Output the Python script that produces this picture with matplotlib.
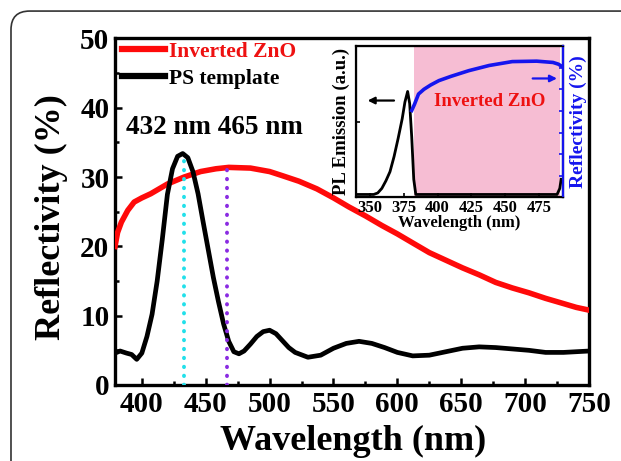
import matplotlib
matplotlib.use("Agg")
import matplotlib.pyplot as plt
from matplotlib.patches import FancyBboxPatch
from matplotlib.ticker import MultipleLocator

plt.rcParams['font.family'] = ['Liberation Serif', 'DejaVu Serif']
plt.rcParams['font.weight'] = 'bold'

# ===== main panel data =====
zno_wl = [379, 381, 384, 389, 394, 400, 407, 420, 433, 446, 458, 468, 485, 500, 510, 523,
          537, 550, 562, 575, 588, 600, 612, 625, 638, 651, 664, 677, 690, 703, 716, 729, 740, 750]
zno_R = [20.0, 22.0, 23.5, 25.2, 26.4, 27.0, 27.6, 29.0, 30.0, 30.8, 31.2, 31.4, 31.3, 30.8, 30.2, 29.4,
         28.3, 27.0, 25.7, 24.4, 23.0, 21.8, 20.5, 19.1, 18.0, 16.9, 15.9, 14.8, 14.0, 13.3, 12.5, 11.8, 11.2, 10.8]

ps_wl = [379, 383, 388, 392, 396, 400, 404, 408, 412, 416, 420, 424, 428, 432, 436, 440, 444, 448,
         452, 456, 460, 464, 468, 472, 476, 480, 485, 490, 495, 500, 505, 510, 515, 520, 530, 540,
         550, 560, 570, 580, 590, 600, 612, 625, 638, 651, 664, 677, 690, 703, 716, 730, 750]
ps_R = [4.6, 4.9, 4.6, 4.4, 3.7, 4.6, 7.0, 10.2, 15.0, 21.0, 27.5, 31.2, 33.0, 33.4, 32.8, 30.8, 27.6, 23.5,
        19.5, 15.5, 12.0, 8.8, 6.3, 4.8, 4.5, 4.9, 5.9, 7.0, 7.7, 7.9, 7.4, 6.4, 5.4, 4.7, 4.0, 4.3,
        5.3, 6.0, 6.3, 6.0, 5.4, 4.7, 4.2, 4.3, 4.8, 5.3, 5.5, 5.4, 5.2, 5.0, 4.7, 4.7, 4.9]

peak_wl = [433, 467]
peak_top = [33.4, 31.4]

# ===== inset data =====
pl_wl = [340, 348, 353, 356, 359, 362, 365, 368, 371, 374, 376, 378, 379.5, 381, 382.5, 384,
         400, 430, 460, 488, 490, 491]
pl_I = [0.02, 0.02, 0.02, 0.03, 0.06, 0.11, 0.17, 0.27, 0.39, 0.52, 0.63, 0.70, 0.62, 0.40, 0.12, 0.02,
        0.02, 0.02, 0.02, 0.02, 0.06, 0.12]
ref_wl = [381, 383, 386, 390, 395, 401, 410, 423, 438, 455, 473, 485, 489, 491]
ref_R = [20.1, 21.5, 23.9, 25.0, 26.0, 27.0, 28.0, 29.3, 30.5, 31.4, 31.5, 31.2, 30.8, 30.4]

fig = plt.figure(figsize=(6.21, 4.61), dpi=100)

# rounded outer frame
frame = FancyBboxPatch((0.0177, -0.2), 1.3, 1.176, boxstyle="round,pad=0,rounding_size=0.03",
                       transform=fig.transFigure, fill=False, ec='#333333', lw=1.2,
                       mutation_aspect=621 / 461)
fig.patches.append(frame)

ax = fig.add_axes([0.1852, 0.1649, 0.7633, 0.7516])
ax.plot(zno_wl, zno_R, color='#ff0a0a', lw=4.0, label='Inverted ZnO', zorder=3)
ax.plot(ps_wl, ps_R, color='black', lw=3.4, label='PS template', zorder=4)
ax.plot([peak_wl[0]] * 2, [0, peak_top[0]], color='#22e0ea', lw=2.8, ls=(0, (0.1, 2.2)),
        dash_capstyle='round', zorder=5)
ax.plot([peak_wl[1]] * 2, [0, peak_top[1]], color='#8a2be2', lw=2.8, ls=(0, (0.1, 2.2)),
        dash_capstyle='round', zorder=5)

ax.set_xlim(379, 750)
ax.set_ylim(0, 50)
ax.xaxis.set_major_locator(MultipleLocator(50))
ax.xaxis.set_minor_locator(MultipleLocator(25))
ax.yaxis.set_major_locator(MultipleLocator(10))
ax.yaxis.set_minor_locator(MultipleLocator(5))
ax.tick_params(which='both', direction='in', width=1.8, labelsize=21, pad=4)
ax.tick_params(which='major', length=5)
ax.tick_params(which='minor', length=3)
for s in ax.spines.values():
    s.set_linewidth(2.4)

ax.set_xlabel('Wavelength (nm)', fontsize=26, fontweight='bold')
ax.set_ylabel('Reflectivity (%)', fontsize=26, fontweight='bold')
ax.xaxis.set_label_coords(0.502, -0.164)
ax.xaxis.label.set_va('center')
ax.yaxis.set_label_coords(-0.135, 0.486)
ax.yaxis.label.set_va('center')

leg = ax.legend(loc='upper left', bbox_to_anchor=(0.015, 0.99), frameon=False, fontsize=15.5,
                handlelength=2.0, handletextpad=0.2, labelspacing=0.3, borderpad=0,
                borderaxespad=0)
leg.get_texts()[0].set_color('#ee1111')
for line in leg.get_lines():
    line.set_linewidth(4.5)

ax.text(457, 37.1, '432 nm 465 nm', fontsize=19.5, fontweight='bold', ha='center', va='center')

# ===== inset =====
ins = fig.add_axes([0.5733, 0.5716, 0.3325, 0.3286])
ins.axvspan(383, 490, color='#f6bdd3', lw=0, zorder=0)
ins.plot(pl_wl, pl_I, color='black', lw=2.0, zorder=3)
ins.set_xlim(340, 492)
ins.set_ylim(0, 1)
ins.set_xticks([350, 375, 400, 425, 450, 475])
ins.set_yticks([0.5])
ins.set_yticklabels([])
ins.tick_params(direction='in', length=3, width=1.2, labelsize=12, pad=2)
ins.set_xlabel('Wavelength (nm)', fontsize=12, fontweight='bold', labelpad=-1)
ins.set_ylabel('PL Emission (a.u.)', fontsize=13.5, fontweight='bold', labelpad=2)
for s in ins.spines.values():
    s.set_linewidth(1.6)
ins.annotate('', xy=(346.5, 0.64), xytext=(370, 0.64),
             arrowprops=dict(arrowstyle='-|>', color='black', lw=1.6, mutation_scale=10))
ins.text(438.5, 0.632, 'Inverted ZnO', color='#ee1111', fontsize=13.5, fontweight='bold',
         ha='center', va='center')

ins2 = ins.twinx()
ins2.plot(ref_wl, ref_R, color='#1515ee', lw=2.6, zorder=3)
ins2.set_ylim(0, 35)
ins2.set_yticks([5, 10, 15, 20, 25, 30])
ins2.set_yticklabels([])
ins2.tick_params(direction='in', length=3, width=1.2, color='#1515ee')
ins2.spines['right'].set_color('#1515ee')
ins2.spines['right'].set_linewidth(1.6)
ins2.set_ylabel('Reflectivity (%)', color='#1515ee', fontsize=14, fontweight='bold', labelpad=2)
ins2.annotate('', xy=(490, 27.5), xytext=(468, 27.5),
              arrowprops=dict(arrowstyle='-|>', color='#1515ee', lw=1.6, mutation_scale=10))

fig.savefig('out.png', dpi=100)
